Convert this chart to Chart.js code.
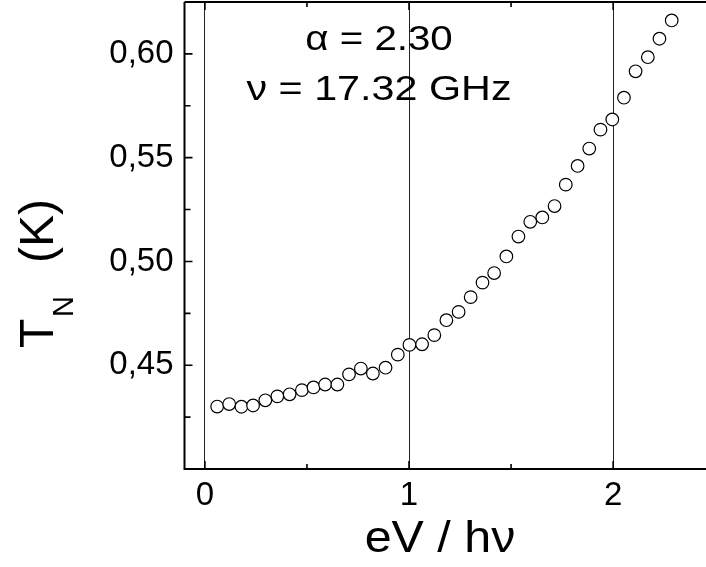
<!DOCTYPE html>
<html>
<head>
<meta charset="utf-8">
<script src="https://cdn.jsdelivr.net/npm/chart.js@4"></script>
<style>
  html, body { margin: 0; padding: 0; background: #fff; overflow: hidden; }
</style>
</head>
<body>
<canvas id="tnChart" width="706" height="567"></canvas>
<script>
// Datos: eV/hν y T_N (K)
const xValues = [0.060, 0.119, 0.179, 0.236, 0.296, 0.355, 0.415, 0.475, 0.532, 0.589,
  0.649, 0.706, 0.764, 0.823, 0.885, 0.945, 1.002, 1.064, 1.124, 1.183,
  1.243, 1.302, 1.360, 1.417, 1.477, 1.536, 1.594, 1.653, 1.713, 1.768,
  1.826, 1.883, 1.938, 1.996, 2.053, 2.110, 2.170, 2.227, 2.287];
const yValues = [0.4301, 0.4313, 0.4300, 0.4306, 0.4331, 0.4350, 0.4360, 0.4380, 0.4393, 0.4407,
  0.4407, 0.4456, 0.4484, 0.4460, 0.4488, 0.4551, 0.4598, 0.4601, 0.4645, 0.4717,
  0.4757, 0.4828, 0.4898, 0.4944, 0.5024, 0.5120, 0.5191, 0.5212, 0.5267, 0.5370,
  0.5460, 0.5544, 0.5635, 0.5684, 0.5789, 0.5916, 0.5984, 0.6073, 0.6161];

const xTicks = [0, 1, 2];
const xMinorTicks = [0.5, 1.5];
const yTicks = [0.45, 0.50, 0.55, 0.60];
const yMinorTicks = [0.425, 0.475, 0.525, 0.575];
const annotationLines = ['α = 2.30', 'ν = 17.32 GHz'];
const xTitle = 'eV / hν';
const yTitleMain = 'T';
const yTitleSub = 'N';
const yTitleUnit = '(K)';

const FONT = '"Liberation Sans", Arial, sans-serif';

// Marco, marcas hacia dentro y textos
const frameAndText = {
  id: 'frameAndText',
  afterDraw(chart) {
    const ctx = chart.ctx;
    const a = chart.chartArea;
    const xs = chart.scales.x;
    const ys = chart.scales.y;
    ctx.save();
    ctx.strokeStyle = '#000';
    ctx.lineWidth = 2;
    ctx.beginPath();
    ctx.moveTo(a.left, a.top);
    ctx.lineTo(a.left, a.bottom);
    ctx.lineTo(a.right, a.bottom);
    ctx.moveTo(a.left, a.top);
    ctx.lineTo(a.right, a.top);
    ctx.stroke();

    ctx.lineWidth = 1.6;
    ctx.beginPath();
    function tickX(v, len) {
      const px = xs.getPixelForValue(v);
      ctx.moveTo(px, a.bottom); ctx.lineTo(px, a.bottom - len);
      ctx.moveTo(px, a.top); ctx.lineTo(px, a.top + len);
    }
    function tickY(v, len) {
      const py = ys.getPixelForValue(v);
      ctx.moveTo(a.left, py); ctx.lineTo(a.left + len, py);
    }
    xTicks.forEach(v => tickX(v, 8));
    xMinorTicks.forEach(v => tickX(v, 5));
    yTicks.forEach(v => tickY(v, 8));
    yMinorTicks.forEach(v => tickY(v, 6));
    ctx.stroke();

    ctx.fillStyle = '#000';
    ctx.textBaseline = 'alphabetic';

    // Anotaciones
    ctx.font = '35px ' + FONT;
    ctx.textAlign = 'center';
    annotationLines.forEach(function(line, i) {
      ctx.save();
      ctx.translate(379, 50 + i * 50);
      ctx.scale(i === 0 ? 1.15 : 1.18, 1);
      ctx.fillText(line, 0, 0);
      ctx.restore();
    });

    // Título eje X
    ctx.save();
    ctx.font = '44px ' + FONT;
    ctx.translate(440, 552);
    ctx.scale(1.1, 1);
    ctx.fillText(xTitle, 0, 0);
    ctx.restore();

    // Título eje Y (T con subíndice N)
    ctx.save();
    ctx.translate(53, 348);
    ctx.rotate(-Math.PI / 2);
    ctx.textAlign = 'left';
    ctx.font = '48px ' + FONT;
    ctx.fillText(yTitleMain, 0, 0);
    ctx.font = '29px ' + FONT;
    ctx.fillText(yTitleSub, 31, 20);
    ctx.font = '48px ' + FONT;
    ctx.fillText(yTitleUnit, 85, 0);
    ctx.restore();

    ctx.restore();
  }
};

const ctx = document.getElementById('tnChart').getContext('2d');
const tnChart = new Chart(ctx, {
  type: 'scatter',
  data: {
    datasets: [{
      label: 'T_N',
      data: xValues.map((x, i) => ({ x: x, y: yValues[i] })),
      pointStyle: 'circle',
      pointRadius: 6.3,
      pointBorderWidth: 1.2,
      borderColor: '#000',
      backgroundColor: '#fff',
      showLine: false
    }]
  },
  options: {
    responsive: false,
    animation: false,
    layout: { autoPadding: false, padding: { top: 2, left: 0, right: 0, bottom: 0 } },
    plugins: {
      legend: { display: false },
      tooltip: { enabled: false }
    },
    scales: {
      x: {
        type: 'linear',
        min: -0.1,
        max: 2.455,
        afterBuildTicks: s => { s.ticks = xTicks.map(v => ({ value: v })); },
        afterFit: s => { s.height = 98; s.paddingLeft = 0; s.paddingRight = 0; },
        border: { display: false },
        grid: { color: '#222', lineWidth: 1, drawTicks: false },
        ticks: {
          color: '#000',
          padding: 7,
          font: { family: FONT, size: 33 },
          callback: v => String(v)
        }
      },
      y: {
        type: 'linear',
        min: 0.40,
        max: 0.625,
        afterBuildTicks: s => { s.ticks = yTicks.map(v => ({ value: v })); },
        afterFit: s => { s.width = 184.5; s.paddingTop = 0; s.paddingBottom = 0; },
        border: { display: false },
        grid: { display: false, drawTicks: false },
        ticks: {
          color: '#000',
          padding: 11,
          font: { family: FONT, size: 33 },
          callback: v => v.toFixed(2).replace('.', ',')
        }
      }
    }
  },
  plugins: [frameAndText]
});
</script>
</body>
</html>
